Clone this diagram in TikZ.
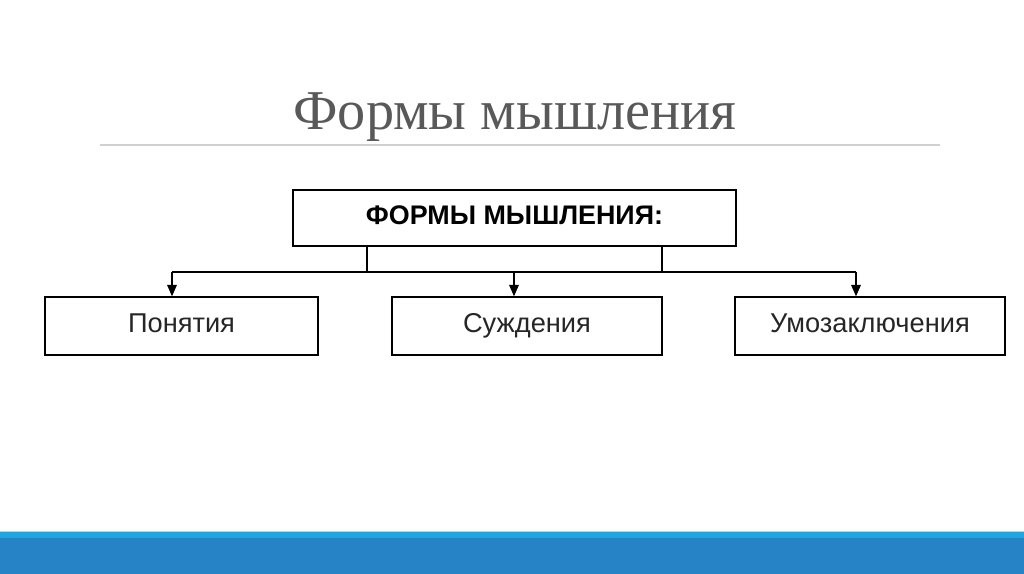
\documentclass[tikz,border=0pt]{standalone}
\usepackage{fontspec}
\setmainfont{Liberation Serif}
\setsansfont{Liberation Sans}
\usetikzlibrary{arrows.meta,calc}
\definecolor{titlegray}{HTML}{595959}
\definecolor{rulegray}{HTML}{D0D0D0}
\definecolor{barlight}{HTML}{1FA6E0}
\definecolor{bardark}{HTML}{2683C6}
\tikzset{
  formbox/.style={draw=black, line width=0.8pt, minimum height=1.16cm, inner sep=0pt,
    text height=2.2ex, text depth=0.6ex},
  itembox/.style={formbox, font=\sffamily\fontsize{15.5}{18}\selectfont, text=black!85},
  formarrow/.style={line width=0.7pt, -{Triangle[width=5.5pt,length=6.5pt]}}
}

\begin{document}
\begin{tikzpicture}[x=0.02cm,y=-0.02cm]
			%%%%% START %%%%%
			\useasboundingbox (0,0) rectangle (1024,574);
			\fill[white] (0,0) rectangle (1024,574);
			
			\node[font=\fontsize{32}{36}\selectfont, text=titlegray, anchor=base] (title) at (515,130) {Формы мышления};
			\draw[rulegray, line width=0.6pt] (100,145) -- (940,145);
			
			\node[formbox, minimum width=8.86cm, minimum height=1.12cm, font=\sffamily\bfseries\fontsize{15.3}{18}\selectfont] (top) at (514.5,218) {ФОРМЫ МЫШЛЕНИЯ:};
			
			\node[itembox, minimum width=5.46cm] (c1) at (181.5,326) {Понятия};
			\node[itembox, minimum width=5.4cm] (c2) at (527,326) {Суждения};
			\node[itembox, minimum width=5.4cm] (c3) at (870,326) {Умозаключения};
			
			\coordinate (j1) at (367,272);
			\coordinate (j2) at (662,272);
			\coordinate (a1) at (172,272);
			\coordinate (a2) at (514,272);
			\coordinate (a3) at (856,272);
			
			\draw[line width=0.7pt] (top.south -| j1) -- (j1);
			\draw[line width=0.7pt] (top.south -| j2) -- (j2);
			\draw[line width=0.7pt] (a1) -- (a3);
			\draw[formarrow] (a1) -- (a1 |- c1.north);
			\draw[formarrow] (a2) -- (a2 |- c2.north);
			\draw[formarrow] (a3) -- (a3 |- c3.north);
			
			\fill[barlight!40] (0,530.5) rectangle (1024,532);
			\fill[barlight] (0,532) rectangle (1024,537.5);
			\fill[bardark] (0,537.5) rectangle (1024,574);
			%%%%% END %%%%%
\end{tikzpicture}
\end{document}
